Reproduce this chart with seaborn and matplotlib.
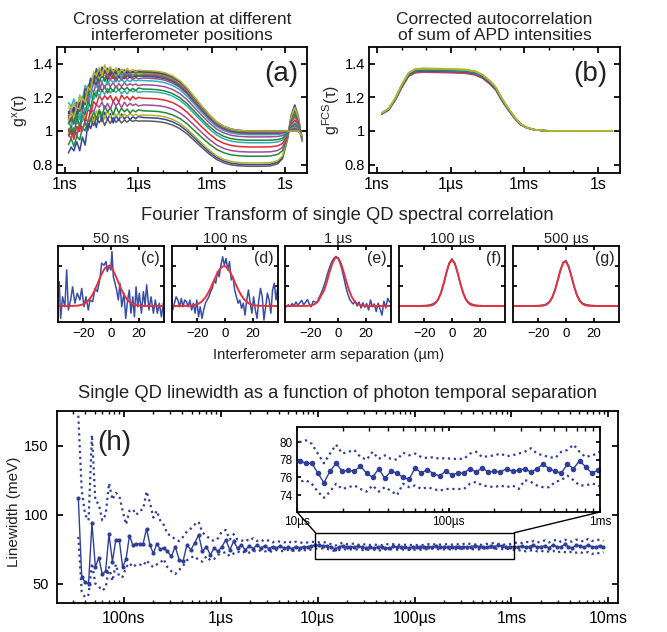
import numpy as np
import pandas as pd
import matplotlib
matplotlib.use('Agg')
import matplotlib.pyplot as plt
import seaborn as sns
from matplotlib.patches import Rectangle, ConnectionPatch
from matplotlib.ticker import LogLocator, NullFormatter

# ---------------- panel (a): cross correlation ----------------
a_logt = [-8.86, -8.75, -8.64, -8.52, -8.40, -8.29, -8.18, -8.06, -7.95, -7.83, -7.72, -7.60, -7.49,
          -7.38, -7.26, -7.15, -7.03, -6.92, -6.80, -6.69, -6.57, -6.46, -6.34, -6.23, -6.11, -6.00,
          -5.8, -5.5, -5.2, -4.9, -4.6, -4.3, -4.0, -3.7, -3.4, -3.1, -2.8, -2.5, -2.2, -1.9, -1.5,
          -1.0, -0.6, -0.3, -0.1, 0.1, 0.25, 0.4, 0.55, 0.7]
a_rise = [0.0, 0.03, 0.07, 0.13, 0.22, 0.33, 0.45, 0.6, 0.73, 0.84, 0.92, 0.97] + [1.0] * 38
a_decay = [1.0] * 27 + [0.995, 0.985, 0.96, 0.91, 0.83, 0.71, 0.56, 0.41, 0.27, 0.15, 0.075, 0.03, 0.01, 0.0] + [0.0] * 9
a_back = [0.0] * 42 + [0.01, 0.07, 0.22, 0.7, 1.0, 1.0, 1.0, 1.0]
a_bump = [0.0] * 45 + [0.1, 0.6, 1.0, 0.55, -0.2]
a_enddrop = [0.0] * 49 + [0.03]
a_ripple = [0.5, -0.7, 0.3, -0.9, 0.8, -0.2, 0.6, -0.8, 0.9, -0.5, 0.7, -0.3, 0.6, -0.9, 0.4, -0.6,
            0.8, -0.4, 0.5, -0.7, 0.3, -0.5, 0.6, -0.3, 0.4, -0.2]
a_env = [0.6, 0.8, 1, 1, 1, 1, 1, 1, 1, 0.95, 0.9, 0.85, 0.8, 0.75, 0.7, 0.65, 0.6, 0.55, 0.5, 0.45,
         0.4, 0.35, 0.3, 0.25, 0.2, 0.15]

a_colors = ['gray', 'blue', 'olive', 'green', 'magenta', 'red', 'cyan', 'green', 'magenta', 'cyan',
            'magenta', 'blue', 'green', 'red', 'cyan', 'magenta', 'olive', 'gray', 'blue', 'olive']
a_plateau = [1.06, 1.08, 1.095, 1.12, 1.155, 1.195, 1.235, 1.25, 1.275, 1.30, 1.315, 1.325, 1.33,
             1.335, 1.34, 1.343, 1.347, 1.35, 1.355, 1.36]
a_tail = [0.79, 0.80, 0.81, 0.85, 0.875, 0.905, 0.93, 0.945, 0.965, 0.978, 0.985, 0.99, 0.993,
          0.995, 0.997, 0.998, 0.999, 1.0, 1.0, 1.0]
a_start = [1.0, 0.88, 1.05, 0.93, 0.97, 0.98, 1.03, 1.0, 1.08, 1.05, 1.1, 1.12, 1.07, 1.1, 1.15,
           1.09, 1.12, 1.06, 1.1, 1.08]
a_peak = [1.12, 1.155, 1.14, 1.10, 1.085, 1.065, 1.05, 1.04, 1.03, 1.02, 1.015, 1.01, 1.008,
          1.005, 1.003, 1.002, 1.001, 1.0, 1.0, 1.0]
a_noise = [0.04, 0.06, 0.04, 0.05, 0.045, 0.05, 0.045, 0.05, 0.045, 0.04, 0.045, 0.04, 0.05, 0.04,
           0.045, 0.04, 0.05, 0.04, 0.045, 0.05]

# ---------------- panel (b): corrected autocorrelation ----------------
b_logt = [-8.81, -8.53, -8.26, -7.99, -7.72, -7.45, -7.1, -6.5, -5.9, -5.4, -5.0, -4.7, -4.4, -4.15,
          -3.9, -3.65, -3.4, -3.15, -2.9, -2.6, -2.2, -1.6, -1.0, 0.0, 0.59]
b_mean = [1.104, 1.13, 1.19, 1.27, 1.336, 1.358, 1.362, 1.36, 1.358, 1.355, 1.345, 1.325, 1.29,
          1.25, 1.185, 1.13, 1.08, 1.04, 1.02, 1.008, 1.002, 1.0, 1.0, 1.0, 1.0]
b_spread = [0.3, 0.4, 0.6, 0.8, 0.95, 1, 1, 1, 1, 1, 1, 0.95, 0.9, 0.8, 0.65, 0.5, 0.35, 0.2, 0.1,
            0.05, 0.02, 0, 0, 0, 0]
b_offset = [-0.012, -0.009, -0.007, -0.005, -0.003, -0.001, 0.001, 0.003, 0.005, 0.007, 0.009, 0.012]
b_colors = ['magenta', 'red', 'magenta', 'red', 'gray', 'blue', 'cyan', 'green', 'blue', 'cyan',
            'olive', 'olive']

# ---------------- panels (c)-(g): spectral correlation FT ----------------
ft_titles = ['50 ns', '100 ns', '1 µs', '100 µs', '500 µs']
ft_letters = ['(c)', '(d)', '(e)', '(f)', '(g)']

c_x = [-37.6, -36.6, -35.2, -33.5, -32.2, -31.0, -29.3, -27.9, -26.2, -24.5, -22.6, -21.3, -19.6,
       -18.2, -16.5, -15.3, -13.3, -11.6, -9.9, -8.0, -6.8, -5.1, -3.6, -2.7, -1.2, -0.2, 0.7, 1.7,
       2.9, 4.1, 5.3, 6.5, 7.8, 9.4, 10.7, 12.1, 13.3, 14.5, 15.8, 17.0, 18.2, 19.4, 20.6, 22.1,
       23.5, 24.7, 25.9, 27.6, 29.1, 30.8, 32.2, 33.7, 35.1, 36.6, 38.0]
c_blue = [0.61, -0.31, 0.23, -0.02, 0.90, -0.10, 0.15, 0.48, 0.07, 0.32, 0.15, 0.44, -0.02, 0.23,
          -0.10, 0.15, 0.11, 0.44, 0.36, 0.69, 1.07, 1.02, 1.11, 0.86, 1.02, 0.90, 1.36, 0.73, 0.57,
          0.40, 0.15, 0.57, -0.02, 0.32, -0.31, 0.15, 0.40, -0.18, 0.23, -0.27, 0.48, -0.02, 0.32,
          -0.18, 0.36, 0.02, 0.53, -0.10, 0.23, -0.18, 0.15, -0.18, 0.07, -0.27, 0.07]
d_blue = [-0.10, 0.07, 0.23, 0.15, -0.02, 0.19, -0.02, 0.15, 0.11, -0.02, 0.15, -0.10, 0.07, -0.18,
          0.15, -0.27, -0.02, -0.31, -0.10, 0.07, 0.15, 0.23, 0.36, 0.44, 0.65, 0.57, 0.86, 0.73,
          1.02, 1.23, 1.02, 1.19, 0.90, 1.11, 0.65, 0.73, 0.40, 0.23, 0.07, 0.15, -0.06, 0.07, -0.23,
          0.15, 0.40, 0.07, -0.18, 0.23, -0.10, -0.31, 0.15, 0.44, 0.23, -0.35, -0.02, 0.32, 0.15,
          -0.18, 0.40, 0.57, 0.15, 0.48]
e_blue = [-0.02, 0.03, -0.01, 0.06, 0.0, 0.1, 0.02, 0.08, 0.14, 0.03, 0.09, 0.16, 0.05, -0.02, 0.12,
          0.1, 0.08, 0.2, 0.3, 0.42, 0.55, 0.72, 0.88, 1.02, 1.13, 1.2, 1.24, 1.19, 1.08, 0.92, 0.72,
          0.5, 0.32, 0.18, 0.1, 0.05, 0.12, 0.0, 0.1, -0.05, 0.08, -0.03, 0.06, -0.1, 0.15, -0.02,
          0.05, -0.14, 0.07, -0.08, -0.23, 0.12, -0.05, 0.19, 0.1]
fit_x = [-38, -30, -24, -20, -17, -14, -12, -10, -8, -6, -4, -2, 0, 2, 4, 6, 8, 10, 12, 14, 17, 20,
         24, 30, 38]
c_red = [0, 0, 0.009, 0.044, 0.114, 0.249, 0.381, 0.539, 0.707, 0.857, 0.962, 1.0, 0.962, 0.857,
         0.707, 0.539, 0.381, 0.249, 0.151, 0.085, 0.031, 0.009, 0.002, 0, 0]
d_red = [0, 0.001, 0.010, 0.043, 0.106, 0.225, 0.341, 0.482, 0.638, 0.789, 0.912, 0.986, 0.996,
         0.94, 0.83, 0.685, 0.528, 0.381, 0.257, 0.162, 0.071, 0.027, 0.006, 0, 0]
e_red = [0, 0, 0.001, 0.010, 0.043, 0.142, 0.278, 0.397, 0.617, 0.863, 1.076, 1.203, 1.203, 1.076,
         0.863, 0.617, 0.397, 0.228, 0.117, 0.054, 0.013, 0.002, 0, 0, 0]
f_red = [0, 0, 0, 0.001, 0.004, 0.026, 0.072, 0.168, 0.336, 0.575, 0.845, 1.065, 1.15, 1.065, 0.845,
         0.575, 0.336, 0.168, 0.072, 0.026, 0.004, 0.001, 0, 0, 0]
f_blue = [0, 0, 0.005, 0.01, 0.02, 0.05, 0.09, 0.17, 0.32, 0.55, 0.83, 1.08, 1.18, 1.07, 0.83, 0.56,
          0.33, 0.17, 0.09, 0.05, 0.02, 0.01, 0.005, 0, 0]
g_red = [0, 0, 0, 0.001, 0.007, 0.037, 0.096, 0.213, 0.402, 0.653, 0.908, 1.084, 1.11, 0.973, 0.732,
         0.473, 0.261, 0.124, 0.050, 0.018, 0.003, 0, 0, 0, 0]
g_blue = [0, 0, 0.005, 0.01, 0.02, 0.05, 0.11, 0.22, 0.39, 0.63, 0.89, 1.09, 1.14, 0.99, 0.74, 0.48,
          0.27, 0.14, 0.07, 0.04, 0.02, 0.01, 0.005, 0, 0]

# ---------------- panel (h): linewidth vs temporal separation ----------------
h_early_mid = [112, 55, 51, 50, 94, 62, 69, 57, 59, 86, 66, 82, 82, 62, 68, 85, 78, 79, 79, 79, 90,
               78, 72, 79, 75, 76]
h_early_up = [172, 118, 100, 96, 158, 110, 108, 96, 100, 123, 111, 116, 114, 103, 93, 103, 104, 100,
              103, 104, 117, 109, 98, 103, 96, 93]
h_early_lo = [84, 44, 40, 42, 65, 50, 48, 45, 47, 62, 52, 64, 55, 55, 62, 65, 62, 64, 64, 63, 67, 64,
              62, 64, 65, 68]
h_late_mid = [73.4, 69.8, 77, 67.4, 66.2, 78.3, 74.6, 79.5, 85.5, 73.4, 77, 71, 75.8, 73.4, 77, 81.9,
              74.6, 80.7, 75.8, 78.3, 74.5, 77.5, 75.5, 78, 76, 77.5, 75.5, 77, 76, 77.5, 75.8, 76.5,
              75.5, 77, 76, 77, 76.5, 77.5, 78,
              77.9, 77.6, 77.6, 76.5, 75.4, 76.7, 77.6, 76.7, 76.8, 76.7, 77.3, 76.5, 76.0, 77.0, 75.9,
              76.7, 76.5, 76.0, 75.8, 77.1, 76.5, 76.9, 76.4, 76.2, 76.7,
              76.3, 76.5, 76.5, 77.0, 76.6, 77.1, 76.6, 76.7, 76.6, 77.0, 76.7, 76.8, 77.0, 76.6, 77.0,
              77.5, 77.0, 76.7, 76.5, 77.5, 77.0, 77.9, 77.2, 76.5, 76.8,
              77, 76.5, 77.5, 76.5, 77, 78, 76.5, 77, 77.5, 76, 78, 77, 76.5, 78.5, 77, 76, 78, 77.5,
              76.5, 78, 77, 76.5, 77.5, 76.5]
h_late_up = [86, 85, 82, 81, 84, 88, 90, 93, 95, 87, 85, 82, 81, 83, 88, 89, 82, 86, 82, 81, 82.5, 81,
             83, 81, 82, 80.5, 81.5, 80, 81, 80.5, 80, 81, 79.5, 80.5, 80, 79.5, 80, 80.5, 80.2,
             80.0, 80.2, 79.8, 78.7, 77.6, 78.7, 79.7, 78.7, 78.9, 79.1, 78.3, 78.0, 78.9, 78.1, 78.5,
             78.1, 78.0, 78.8, 78.5, 78.7, 78.3, 78.2, 78.3, 78.1, 78.2,
             78.1, 78.1, 78.1, 78.7, 78.9, 78.3, 78.4, 78.5, 78.7, 78.4, 78.5, 78.7, 78.9, 79.3, 78.7,
             78.5, 78.3, 78.2, 78.9, 79.1, 79.7, 78.9, 78.3, 78.5, 78.7,
             79.5, 80, 79.5, 80.5, 80, 81, 80, 80.5, 81.5, 80, 81, 82, 80.5, 82, 81, 80.5, 82, 81.5,
             80.5, 82.5, 81, 81.5, 82, 81]
h_late_lo = [62, 59, 57, 60, 63, 67, 69, 70, 67, 66, 70, 67, 68, 71, 72, 73, 70, 72, 73.5, 72, 73.5,
             72.5, 74, 73, 74.5, 73.5, 74, 73, 74.5, 73.5, 74, 74.5, 73.5, 74.5, 74, 74.5, 74, 75, 75.5,
             75.5, 75.7, 75.3, 74.4, 73.7, 74.4, 75.3, 74.7, 74.9, 75.1, 74.7, 74.4, 75.1, 74.4, 74.9,
             74.5, 74.0, 75.3, 74.9, 75.1, 74.7, 74.9, 74.7, 74.5, 74.7,
             74.7, 74.7, 74.7, 75.3, 75.5, 75.1, 75.0, 74.9, 75.1, 74.9, 75.1, 74.7, 75.7, 75.5, 75.1,
             74.9, 74.9, 75.5, 75.7, 76.2, 75.7, 75.1, 75.1, 75.3, 75.2,
             74.5, 74, 74.5, 73.5, 74, 74.5, 73.5, 74, 73, 73.5, 74, 72.5, 73.5, 73, 72.5, 73.5, 72.5,
             73, 72, 73, 71.5, 72.5, 72, 73]

matlab = {'blue': '#34469f', 'green': '#22893c', 'red': '#e32a2e', 'cyan': '#2ab3b6',
          'magenta': '#a34b9c', 'olive': '#b7b42a', 'gray': '#5c5c5c'}
hblue = '#2f3f98'
fblue = '#3a4ea8'
fred = '#e8303a'

sns.set_theme(style='ticks')
plt.rcParams['font.family'] = ['Liberation Sans', 'DejaVu Sans']
plt.rcParams.update({
    'xtick.direction': 'in', 'ytick.direction': 'in',
    'xtick.top': True, 'ytick.right': True,
    'axes.linewidth': 1.3, 'axes.edgecolor': 'black',
    'xtick.color': 'black', 'ytick.color': 'black', 'text.color': '#222222',
    'xtick.major.size': 4, 'ytick.major.size': 4,
    'xtick.minor.size': 2, 'ytick.minor.size': 2,
    'mathtext.fontset': 'custom', 'mathtext.rm': 'Liberation Sans',
    'mathtext.it': 'Liberation Sans:italic',
})

W, H = 667, 632
fig = plt.figure(figsize=(W / 100, H / 100), dpi=100)


def box(l, t, r, b):
    return [l / W, 1 - b / H, (r - l) / W, (b - t) / H]


def corr_axes(ax):
    ax.set_xscale('log')
    ax.set_xlim(10 ** -9.33, 10 ** 0.9)
    ax.set_ylim(0.75, 1.5)
    ax.set_xticks([1e-9, 1e-6, 1e-3, 1])
    ax.set_xticklabels(['1ns', '1µs', '1ms', '1s'], fontsize=11.5)
    ax.xaxis.set_minor_locator(LogLocator(base=10, subs=(1.0,), numticks=20))
    ax.xaxis.set_minor_formatter(NullFormatter())
    ax.set_yticks([0.8, 1.0, 1.2, 1.4])
    ax.set_yticklabels(['0.8', '1', '1.2', '1.4'], fontsize=10.5)
    ax.tick_params(which='both', pad=3)
    ax.set_xlabel('')


# ---- (a)
t_a = 10 ** np.array(a_logt)
rows = []
for k in range(len(a_plateau)):
    noise = np.zeros(len(a_logt))
    noise[:26] = a_noise[k] * np.roll(a_ripple, 3 * k) * np.array(a_env)
    g = (a_tail[k] + (a_plateau[k] - a_tail[k]) * np.array(a_decay)
         - (a_plateau[k] - a_start[k]) * (1 - np.array(a_rise))
         + (1 - a_tail[k]) * np.array(a_back) + (a_peak[k] - 1) * np.array(a_bump)
         - np.array(a_enddrop) + noise)
    rows.append(pd.DataFrame({'t': t_a, 'g': g, 'curve': f'a{k:02d}'}))
df_a = pd.concat(rows)
pal_a = {f'a{k:02d}': matlab[c] for k, c in enumerate(a_colors)}

ax_a = fig.add_axes(box(57, 47, 307, 173))
sns.lineplot(data=df_a, x='t', y='g', hue='curve', palette=pal_a, estimator=None, sort=False,
             legend=False, linewidth=1.1, ax=ax_a)
corr_axes(ax_a)
ax_a.set_ylabel('g$^{\\mathrm{x}}$(τ)', fontsize=11.5, labelpad=2)
ax_a.set_title('Cross correlation at different\ninterferometer positions', fontsize=12.5,
               linespacing=1.05, pad=5)
ax_a.text(0.965, 0.885, '(a)', transform=ax_a.transAxes, ha='right', va='top', fontsize=20)

# ---- (b)
t_b = 10 ** np.array(b_logt)
rows = []
for k, off in enumerate(b_offset):
    g = np.array(b_mean) + off * np.array(b_spread)
    rows.append(pd.DataFrame({'t': t_b, 'g': g, 'curve': f'b{k:02d}'}))
df_b = pd.concat(rows)
pal_b = {f'b{k:02d}': matlab[c] for k, c in enumerate(b_colors)}

ax_b = fig.add_axes(box(369, 47, 620, 173))
sns.lineplot(data=df_b, x='t', y='g', hue='curve', palette=pal_b, estimator=None, sort=False,
             legend=False, linewidth=1.1, ax=ax_b)
corr_axes(ax_b)
ax_b.set_ylabel('g$^{\\mathrm{FCS}}$(τ)', fontsize=11.5, labelpad=2)
ax_b.set_title('Corrected autocorrelation\nof sum of APD intensities', fontsize=12.5,
               linespacing=1.05, pad=5)
ax_b.text(0.95, 0.885, '(b)', transform=ax_b.transAxes, ha='right', va='top', fontsize=20)

# ---- (c)-(g)
x_d = np.linspace(-38, 38.3, len(d_blue))
x_e = np.linspace(-37.5, 37.5, len(e_blue))
blue_sets = [(c_x, c_blue), (x_d, d_blue), (x_e, e_blue), (fit_x, f_blue), (fit_x, g_blue)]
red_sets = [c_red, d_red, e_red, f_red, g_red]
lefts = [58, 172, 285, 399, 513]
for i, l in enumerate(lefts):
    ax = fig.add_axes(box(l, 246, l + 106, 322))
    bx, by = blue_sets[i]
    sns.lineplot(x=np.asarray(bx), y=np.asarray(by), color=fblue, linewidth=1.1, estimator=None,
                 sort=False, ax=ax)
    sns.lineplot(x=np.asarray(fit_x), y=np.asarray(red_sets[i]), color=fred, linewidth=1.4,
                 estimator=None, sort=False, ax=ax)
    ax.set_xlim(-38.5, 38.5)
    ax.set_ylim(-0.4, 1.5)
    ax.set_xticks([-20, 0, 20])
    ax.set_xticklabels(['\u221220', '0', '20'], fontsize=9.5)
    ax.set_yticks([0, 0.5, 1.0])
    ax.set_yticklabels([])
    ax.tick_params(which='both', pad=4, length=3)
    ax.set_title(ft_titles[i], fontsize=10.5, pad=2)
    ax.text(0.96, 0.93, ft_letters[i], transform=ax.transAxes, ha='right', va='top', fontsize=11.5)

fig.text(347 / W, 1 - 215 / H, 'Fourier Transform of single QD spectral correlation',
         ha='center', va='center', fontsize=13.2)
fig.text(329 / W, 1 - 355 / H, 'Interferometer arm separation (µm)', ha='center', va='center',
         fontsize=10.6)

# ---- (h)
t_early = np.logspace(-7.47, -6.59, len(h_early_mid))
t_late = np.logspace(-6.55, -2.05, len(h_late_mid))
t_h = np.concatenate([t_early, t_late])
mid = np.array(h_early_mid + h_late_mid, dtype=float)
up = np.array(h_early_up + h_late_up, dtype=float)
lo = np.array(h_early_lo + h_late_lo, dtype=float)

ax_h = fig.add_axes(box(57, 411, 618, 603))
ax_in = fig.add_axes(box(297, 427, 600, 512))
for ax, ms in [(ax_h, 3), (ax_in, 4)]:
    sns.lineplot(x=t_h, y=up, color=hblue, linestyle=':', linewidth=1.6, estimator=None, sort=False,
                 ax=ax)
    sns.lineplot(x=t_h, y=lo, color=hblue, linestyle=':', linewidth=1.6, estimator=None, sort=False,
                 ax=ax)
    sns.lineplot(x=t_h, y=mid, color=hblue, linewidth=1.0, marker='o', markersize=ms,
                 markeredgewidth=0, estimator=None, sort=False, ax=ax)
    ax.set_xscale('log')
    ax.xaxis.set_minor_locator(LogLocator(base=10, subs=np.arange(2, 10), numticks=20))
    ax.xaxis.set_minor_formatter(NullFormatter())

ax_h.set_xlim(10 ** -7.69, 10 ** -1.9)
ax_h.set_ylim(36, 175.4)
ax_h.set_xticks([1e-7, 1e-6, 1e-5, 1e-4, 1e-3, 1e-2])
ax_h.set_xticklabels(['100ns', '1µs', '10µs', '100µs', '1ms', '10ms'], fontsize=11.5)
ax_h.set_yticks([50, 100, 150])
ax_h.set_yticklabels(['50', '100', '150'], fontsize=10.5)
ax_h.tick_params(which='both', pad=6)
ax_h.set_title('Single QD linewidth as a function of photon temporal separation', fontsize=13.2,
               pad=9)
ax_h.text(0.071, 0.90, '(h)', transform=ax_h.transAxes, ha='left', va='top', fontsize=20)
fig.text(14 / W, 1 - 512 / H, 'Linewidth (meV)', rotation=90, ha='center', va='center',
         fontsize=11)

ax_h.add_patch(Rectangle((0.95e-5, 68), 1.07e-3 - 0.95e-5, 19, fill=False, edgecolor='black',
                         linewidth=1.0, zorder=5))

ax_in.set_xlim(1e-5, 1e-3)
ax_in.set_ylim(72.1, 81.7)
ax_in.set_xticks([1e-5, 1e-4, 1e-3])
ax_in.set_xticklabels(['10µs', '100µs', '1ms'], fontsize=8.5)
ax_in.set_yticks([74, 76, 78, 80])
ax_in.set_yticklabels(['74', '76', '78', '80'], fontsize=8.5)
ax_in.tick_params(which='both', pad=3, length=3)
ax_in.set_facecolor('white')

for (xa, xb) in [(0.95e-5, 0), (1.07e-3, 1)]:
    con = ConnectionPatch(xyA=(xa, 87), coordsA='data', axesA=ax_h,
                          xyB=(xb, 0), coordsB='axes fraction', axesB=ax_in,
                          color='black', linewidth=1.0)
    fig.add_artist(con)

for ax in fig.axes:
    ax.set_xlabel('')
    if ax not in (ax_a, ax_b):
        ax.set_ylabel('')

fig.savefig('out.png', dpi=100)
